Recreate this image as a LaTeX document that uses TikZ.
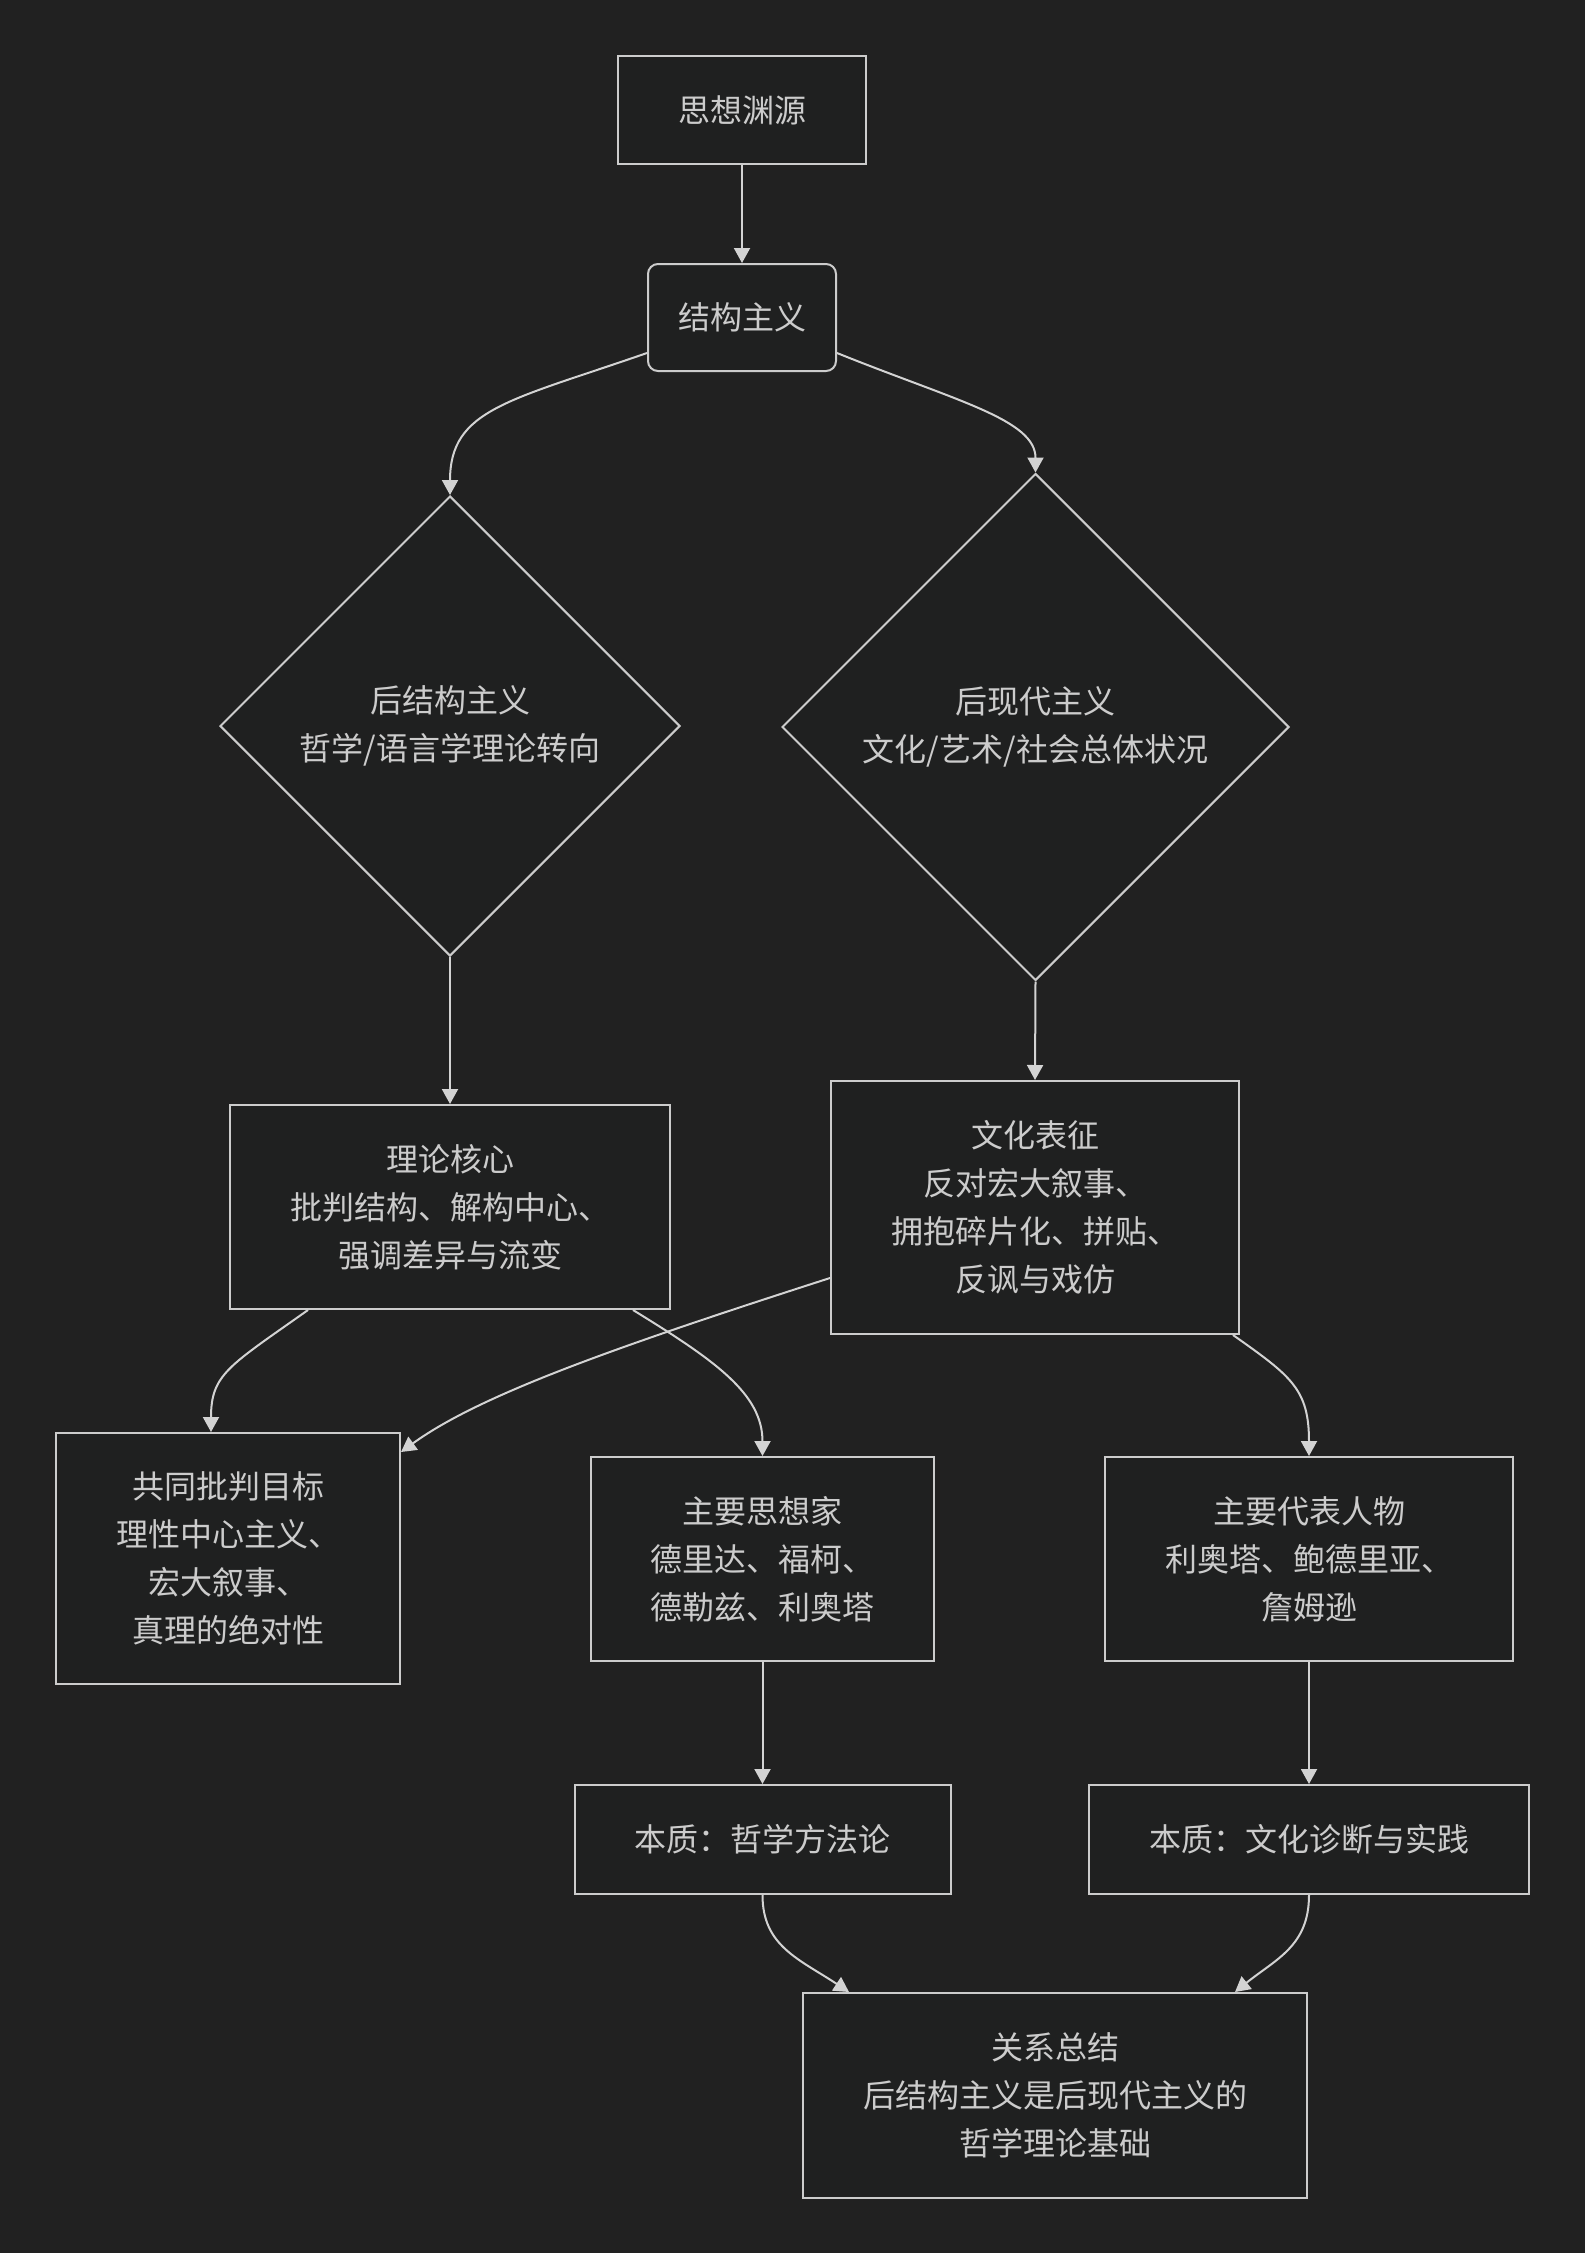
\documentclass[tikz,border=0pt]{standalone}
\usepackage{fontspec}
\setmainfont{Noto Sans CJK SC}
\usetikzlibrary{shapes.geometric,arrows.meta,calc}
\definecolor{bgc}{HTML}{212121}
\definecolor{nodefill}{HTML}{1F2020}
\definecolor{strokec}{HTML}{CCCCCC}
\definecolor{linec}{HTML}{D3D3D3}
\definecolor{textc}{HTML}{CCCCCC}
\tikzset{
  box/.style={draw=strokec, fill=nodefill, line width=2pt, inner sep=0pt,
    align=center, text=textc, font=\fontsize{32pt}{48pt}\selectfont},
  rbox/.style={box, rounded corners=10pt},
  dia/.style={box, diamond, aspect=1},
  edge/.style={draw=linec, line width=2pt,
    -{Triangle[length=15pt,width=16pt]}},
}
\begin{document}
\begin{tikzpicture}[x=1pt,y=-1pt]
\fill[bgc] (0,0) rectangle (1585,2253);
\useasboundingbox (0,0) rectangle (1585,2253);

\node[box, minimum width=248pt, minimum height=108pt] (n1) at (742,110) {思想渊源};
\node[rbox, minimum width=188pt, minimum height=107pt] (n2) at (742,317.5) {结构主义};
\node[dia, minimum width=460pt, minimum height=460pt] (n3) at (450,726) {后结构主义\\哲学/语言学理论转向};
\node[dia, minimum width=507pt, minimum height=507pt] (n4) at (1035.5,727) {后现代主义\\文化/艺术/社会总体状况};
\node[box, minimum width=440pt, minimum height=204pt] (n5) at (450,1207) {理论核心\\批判结构、解构中心、\\强调差异与流变};
\node[box, minimum width=408pt, minimum height=253pt] (n6) at (1035,1207.5) {文化表征\\反对宏大叙事、\\拥抱碎片化、拼贴、\\反讽与戏仿};
\node[box, minimum width=344pt, minimum height=251pt] (n7) at (228,1558.5) {共同批判目标\\理性中心主义、\\宏大叙事、\\真理的绝对性};
\node[box, minimum width=343pt, minimum height=204pt] (n8) at (762.5,1559) {主要思想家\\德里达、福柯、\\德勒兹、利奥塔};
\node[box, minimum width=408pt, minimum height=204pt] (n9) at (1309,1559) {主要代表人物\\利奥塔、鲍德里亚、\\詹姆逊};
\node[box, minimum width=376pt, minimum height=109pt] (n10) at (762.5,1839.5) {本质：哲学方法论};
\node[box, minimum width=440pt, minimum height=109pt] (n11) at (1309,1839.5) {本质：文化诊断与实践};
\node[box, minimum width=504pt, minimum height=205pt] (n12) at (1055,2095.5) {关系总结\\后结构主义是后现代主义的\\哲学理论基础};

\draw[edge] (n1.south) -- (n2.north);
\draw[edge] ($(n2.south west)+(0,-19)$) .. controls +(-138,48) and +(0,-86) .. (n3.north);
\draw[edge] ($(n2.south east)+(0,-19)$) .. controls +(119,48) and +(0,-53) .. (n4.north);
\draw[edge] (n3.south) -- (n5.north);
\draw[edge] (n4.south) -- (n6.north);
\draw[edge] ($(n5.south west)+(79,0)$) .. controls +(-79,56) and +(0,-58) .. ($(n7.north west)+(156,0)$);
\draw[edge] ($(n5.south east)+(-38,0)$) .. controls +(83,51) and +(0,-62) .. (n8.north);
\draw[edge] ($(n6.south west)+(0,-57)$) .. controls +(-211,68) and +(80,-58) .. ($(n7.north east)+(0,20)$);
\draw[edge] ($(n6.south east)+(-7,0)$) .. controls +(58,41) and +(0,-67) .. (n9.north);
\draw[edge] (n8.south) -- (n10.north);
\draw[edge] (n9.south) -- (n11.north);
\draw[edge] (n10.south) .. controls +(0,51) and +(-50,-33) .. ($(n12.north west)+(47,0)$);
\draw[edge] (n11.south) .. controls +(0,51) and +(41,-33) .. ($(n12.north east)+(-73,0)$);
\end{tikzpicture}
\end{document}
